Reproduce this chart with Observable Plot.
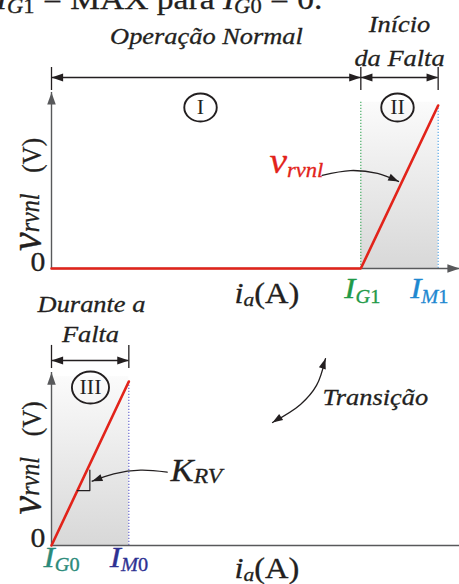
<!DOCTYPE html>
<html><head><meta charset="utf-8">
<script src="https://cdn.jsdelivr.net/npm/d3@7"></script>
<script src="https://cdn.jsdelivr.net/npm/@observablehq/plot@0.6"></script>
<style>
body{margin:0;background:#fff;}
#fig{position:relative;width:459px;height:584px;overflow:hidden;background:#fff;}
#fig svg{position:absolute;left:0;top:0;}
</style></head><body><div id="fig"></div>
<script>
// ---------------- data (schematic units: i_a and v_rvnl) ----------------
const IA_END = 5.276;                 // right end of the i_a axis
// top panel : Operação Normal (I) / Início da Falta (II)
const topIa = [0, 4, 5];              // 0, I_G1, I_M1
const topV  = [0, 0, 1];              // v_rvnl
// bottom panel : Durante a Falta (III)
const botIa = [0, 1];                 // I_G0, I_M0
const botV  = [0, 1];
// region limits (brackets) and region names
const topRegions = [{a: 0, b: 4, name: "I"}, {a: 4, b: 5, name: "II"}];
const botRegions = [{a: 0, b: 1, name: "III"}];

// ---------------- styles ----------------
const INK = "#231f20", AXIS = "#58595b", RED = "#e2231a";
const GREEN = "#1f9a48", BLUE = "#1e88d0", TEAL = "#2b8a7a", NAVY = "#2e3192";
const DOT_GREEN = "#3aa85a", DOT_BLUE = "#4a9ee0", DOT_NAVY = "#5a5ac8";
const STRETCH = 1.1;                  // glyphs in the reference are widened
const FONT = "'Liberation Serif','Times New Roman',serif";

const It = (t, fs, sh = 0, dx = 0) => ({t, i: true, fs, sh, dx});
const Rm = (t, fs, sh = 0, dx = 0) => ({t, i: false, fs, sh, dx});
const RICH = new Map();
function lab(ia, v, segs, anchor = "middle", fill = INK, rotate = 0) {
  const text = segs.map(s => s.t).join("");
  RICH.set(text, segs);
  return {ia, v, text, anchor, fill, rotate};
}
const yLabel = [It("v", 42), It("rvnl", 24, -1), Rm("(V)", 25, 0, 21)];
const iaLabel = [It("i", 29.5), It("a", 19.5, 3), Rm("(A)", 29.5)];

const topLabels = [
  lab(-0.72, 1.595, [It("I", 30.5), It("G", 20.5, 4), Rm("1", 20.5, 4), Rm(" = MAX para ", 30.5),
                     It("I", 30.5), It("G", 20.5, 4), Rm("0", 20.5, 4), Rm(" = 0.", 30.5)], "start"),
  lab(2.004, 1.380, [It("Operação Normal", 24)]),
  lab(4.50, 1.448, [It("Início", 24)]),
  lab(4.50, 1.245, [It("da Falta", 24)]),
  lab(2.819, 0.583, [It("v", 36), It("rvnl", 20.5, 4)], "start", RED),
  lab(-0.078, -0.018, [Rm("0", 27)], "end"),
  lab(4.02, -0.184, [It("I", 30.5), It("G", 18.5, 4), Rm("1", 18.5, 4)], "middle", GREEN),
  lab(4.886, -0.184, [It("I", 30.5), It("M", 18.5, 4), Rm("1", 18.5, 4)], "middle", BLUE),
  lab(2.366, -0.209, iaLabel, "start"),
  lab(-0.142, 0.454, yLabel, "middle", INK, -90)
];
const botLabels = [
  lab(0.517, 1.421, [It("Durante a", 24)]),
  lab(0.504, 1.238, [It("Falta", 24)]),
  lab(3.505, 0.854, [It("Transição", 24)], "start"),
  lab(1.539, 0.396, [It("K", 31.5), It("RV", 21.5, 2)], "start"),
  lab(-0.078, -0.012, [Rm("0", 27)], "end"),
  lab(0.13, -0.134, [It("I", 30.5), It("G", 18.5, 4), Rm("0", 18.5, 4)], "middle", TEAL),
  lab(1.002, -0.134, [It("I", 30.5), It("M", 18.5, 4), Rm("0", 18.5, 4)], "middle", NAVY),
  lab(2.366, -0.201, iaLabel, "start"),
  lab(-0.142, 0.534, yLabel, "middle", INK, -90)
];

// arrow head symbol: tip at the anchor point, pointing up (rotate to aim)
const head = {draw(ctx, size) {
  const r = Math.sqrt(size / Math.PI), L = 2.7 * r, w = 0.95 * r;
  ctx.moveTo(0, 0); ctx.lineTo(-w, L); ctx.lineTo(w, L); ctx.closePath();
}};
// slightly widened circle (the reference is stretched horizontally)
const oval = {draw(ctx, size) {
  const r = Math.sqrt(size / Math.PI), a = 1.16 * r, b = r, k = 0.5523;
  ctx.moveTo(a, 0);
  ctx.bezierCurveTo(a, k * b, k * a, b, 0, b);
  ctx.bezierCurveTo(-k * a, b, -a, k * b, -a, 0);
  ctx.bezierCurveTo(-a, -k * b, -k * a, -b, 0, -b);
  ctx.bezierCurveTo(k * a, -b, a, -k * b, a, 0);
  ctx.closePath();
}};

const P = (ia, v) => ({ia, v});
const topCfg = {
  id: "gT", marginTop: 105, marginBottom: 584 - 268,
  curve: topIa.map((ia, k) => P(ia, topV[k])),
  fill: {x1: topIa[1], x2: topIa[2], y1: 0, y2: 1.02},
  dotted: [{ia: topIa[1], y1: 0, y2: 1.02, stroke: DOT_GREEN}, {ia: topIa[2], y1: 0, y2: 1.0, stroke: DOT_BLUE}],
  yTip: 1.08, axisHeads: [{ia: 0, v: 1.08, rot: 0}, {ia: IA_END, v: 0, rot: 90}],
  regions: topRegions, bracketY: 1.172, tickY: [1.092, 1.233],
  circles: [{ia: 1.927, v: 0.988}, {ia: 4.474, v: 0.988}], circleR: 14,
  pointers: [{pts: [P(3.50, 0.571), P(3.866, 0.601), P(4.216, 0.583), P(4.487, 0.534)],
              heads: [{ia: 4.487, v: 0.534, rot: 115}]}],
  extra: [], labels: topLabels
};
const botCfg = {
  id: "gB", marginTop: 381, marginBottom: 584 - 545,
  curve: botIa.map((ia, k) => P(ia, botV[k])),
  fill: {x1: botIa[0], x2: botIa[1], y1: 0, y2: 1.03},
  dotted: [{ia: botIa[1], y1: 0, y2: 1.0, stroke: DOT_NAVY}],
  yTip: 1.055, axisHeads: [{ia: 0, v: 1.055, rot: 0}],
  regions: botRegions, bracketY: 1.128, tickY: [1.079, 1.22],
  circles: [{ia: 0.504, v: 0.963}], circleR: 16,
  pointers: [
    {pts: [P(1.496, 0.447), P(1.151, 0.459), P(0.806, 0.437), P(0.526, 0.392)],
     heads: [{ia: 0.526, v: 0.392, rot: 249}]},
    {pts: [P(3.543, 1.140), P(3.427, 0.976), P(3.220, 0.860), P(2.858, 0.750)],
     heads: [{ia: 3.543, v: 1.140, rot: 18}, {ia: 2.858, v: 0.750, rot: 237}]}
  ],
  extra: [P(0.335, 0.335), P(0.496, 0.335), P(0.496, 0.46)], labels: botLabels
};

function panel(c) {
  const ticks = [...new Set(c.regions.flatMap(r => [r.a, r.b]))];
  const bHeads = c.regions.flatMap(r => [{ia: r.a, v: c.bracketY, rot: 270}, {ia: r.b, v: c.bracketY, rot: 90}]);
  const circ = c.circles.map((d, k) => ({...d, name: c.regions[k].name}));
  const marks = [
    Plot.rect([c.fill], {x1: "x1", x2: "x2", y1: "y1", y2: "y2", fill: `url(#${c.id})`}),
    Plot.ruleX(c.dotted, {x: "ia", y1: "y1", y2: "y2", stroke: "stroke", strokeWidth: 1.1, strokeDasharray: "1.3,1.7"}),
    Plot.ruleX([0], {y1: 0, y2: c.yTip, stroke: AXIS, strokeWidth: 1.4}),
    Plot.ruleY([0], {x1: 0, x2: IA_END, stroke: AXIS, strokeWidth: 1.4}),
    Plot.dot(c.axisHeads, {x: "ia", y: "v", rotate: "rot", symbol: head, r: 4.5, fill: AXIS, stroke: "none"}),
    Plot.line(c.curve, {x: "ia", y: "v", stroke: RED, strokeWidth: 2.6, strokeLinejoin: "miter"}),
    Plot.ruleX(ticks, {x: d => d, y1: c.tickY[0], y2: c.tickY[1], stroke: INK, strokeWidth: 1.3}),
    Plot.ruleY(c.regions, {x1: "a", x2: "b", y: () => c.bracketY, stroke: INK, strokeWidth: 1.4}),
    Plot.dot(bHeads, {x: "ia", y: "v", rotate: "rot", symbol: head, r: 4.3, fill: INK, stroke: "none"}),
    Plot.dot(circ, {x: "ia", y: "v", r: c.circleR, symbol: oval, stroke: INK, strokeWidth: 1.9, fill: "none"}),
    Plot.text(circ, {x: "ia", y: "v", text: "name", fontSize: 20, fill: INK}),
    ...c.pointers.flatMap(p => [
      Plot.line(p.pts, {x: "ia", y: "v", curve: "catmull-rom", stroke: INK, strokeWidth: 1.3}),
      Plot.dot(p.heads, {x: "ia", y: "v", rotate: "rot", symbol: head, r: 3.8, fill: INK, stroke: "none"})
    ]),
    Plot.line(c.extra, {x: "ia", y: "v", stroke: INK, strokeWidth: 1.2}),
    ...["start", "middle", "end"].map(a => Plot.text(c.labels.filter(l => l.anchor === a && !l.rotate),
      {x: "ia", y: "v", text: "text", fill: "fill", stroke: "fill", strokeWidth: 0.3, textAnchor: a, lineAnchor: "bottom"})),
    Plot.text(c.labels.filter(l => l.rotate), {x: "ia", y: "v", text: "text", fill: "fill", stroke: "fill", strokeWidth: 0.3, rotate: -90, textAnchor: "middle", lineAnchor: "bottom"})
  ];
  const svg = Plot.plot({
    width: 459, height: 584, marginLeft: 51, marginRight: 0,
    marginTop: c.marginTop, marginBottom: c.marginBottom,
    x: {domain: [0, IA_END], axis: null},
    y: {domain: [0, 1], axis: null},
    color: {type: "identity"},
    style: {background: "transparent", fontFamily: FONT, overflow: "hidden"},
    marks
  });
  const ns = "http://www.w3.org/2000/svg";
  const defs = document.createElementNS(ns, "defs");
  defs.innerHTML = `<linearGradient id="${c.id}" x1="0" y1="0" x2="0" y2="1"><stop offset="0" stop-color="#fbfbfb"/><stop offset="1" stop-color="#d8d8d8"/></linearGradient>`;
  svg.insertBefore(defs, svg.firstChild);
  svg.querySelectorAll("text").forEach(t => {
    const segs = RICH.get(t.textContent);
    if (segs) {
      t.textContent = "";
      let cur = 0;
      segs.forEach(s => {
        const ts = document.createElementNS(ns, "tspan");
        ts.textContent = s.t;
        ts.setAttribute("font-size", s.fs);
        ts.setAttribute("font-style", s.i ? "italic" : "normal");
        if (s.sh !== cur) { ts.setAttribute("dy", s.sh - cur); cur = s.sh; }
        if (s.dx) ts.setAttribute("dx", s.dx);
        t.appendChild(ts);
      });
    }
    t.style.whiteSpace = "pre";
    const tr = t.getAttribute("transform");
    const m = tr && tr.match(/^\s*translate\(([^)]*)\)(.*)$/);
    if (m) t.setAttribute("transform", `translate(${m[1]}) scale(${STRETCH},1)${m[2]}`);
    else {
      const x = +t.getAttribute("x") || 0, y = parseFloat(t.getAttribute("y")) || 0;
      t.setAttribute("transform", `${tr || ""} translate(${x},${y}) scale(${STRETCH},1) translate(${-x},${-y})`);
    }
  });
  return svg;
}

const fig = document.getElementById("fig");
fig.appendChild(panel(topCfg));
fig.appendChild(panel(botCfg));
</script></body></html>
